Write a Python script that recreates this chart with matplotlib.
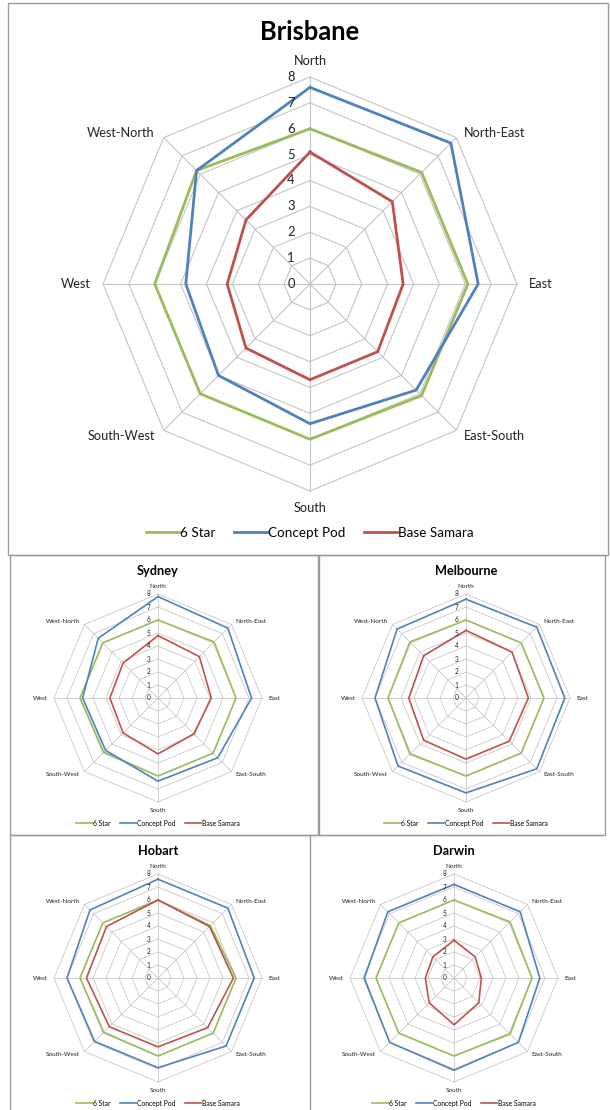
import numpy as np
import matplotlib.pyplot as plt
from matplotlib.lines import Line2D
from matplotlib.patches import Rectangle

plt.rcParams['font.family'] = ['Lato', 'DejaVu Sans']

W, H = 610, 1110

directions = ["North", "North-East", "East", "East-South",
              "South", "South-West", "West", "West-North"]
series_names = ["6 Star", "Concept Pod", "Base Samara"]
series_colors = ["#9BBB59", "#4F81BD", "#C0504D"]
r_ticks = [0, 1, 2, 3, 4, 5, 6, 7, 8]

# star ratings per orientation (N, NE, E, ES, S, SW, W, WN)
brisbane_6star = [6.0, 6.1, 6.1, 6.1, 6.0, 6.0, 6.0, 6.2]
brisbane_pod = [7.6, 7.7, 6.5, 5.8, 5.4, 5.0, 4.8, 6.2]
brisbane_samara = [5.1, 4.5, 3.6, 3.7, 3.7, 3.5, 3.2, 3.5]

sydney_6star = [6.0, 6.1, 6.0, 6.0, 6.0, 5.9, 6.0, 6.0]
sydney_pod = [7.8, 7.6, 7.2, 6.5, 6.4, 5.7, 5.8, 6.5]
sydney_samara = [4.8, 4.5, 4.1, 3.9, 4.3, 3.8, 3.7, 3.8]

melbourne_6star = [6.0, 6.0, 6.0, 6.0, 6.0, 6.1, 6.0, 6.1]
melbourne_pod = [7.6, 7.7, 7.6, 7.7, 7.3, 7.4, 7.0, 7.5]
melbourne_samara = [5.2, 5.0, 4.8, 4.7, 4.7, 4.6, 4.4, 4.6]

hobart_6star = [6.0, 5.7, 6.0, 6.0, 6.0, 5.9, 6.0, 6.0]
hobart_pod = [7.6, 7.6, 7.4, 7.4, 6.9, 6.9, 7.0, 7.4]
hobart_samara = [6.0, 5.6, 5.8, 5.4, 5.3, 5.3, 5.5, 5.6]

darwin_6star = [6.0, 6.1, 6.0, 6.1, 6.0, 6.0, 6.0, 6.0]
darwin_pod = [7.2, 7.2, 6.6, 7.0, 7.1, 7.0, 6.9, 7.2]
darwin_samara = [2.9, 2.3, 2.1, 2.7, 3.6, 2.7, 2.2, 2.3]

fig = plt.figure(figsize=(W / 100, H / 100), dpi=100)
fig.patch.set_facecolor("white")

GRID = "#C4C4C4"
BORDER = "#9A9A9A"


def px(x, y):
    return x / W, 1 - y / H


# label placement around the octagon: (dx, dy in px, ha, va)
label_pos = [
    (0, 10, "center", "bottom"),
    (8, 5, "left", "center"),
    (12, 0, "left", "center"),
    (8, -6, "left", "center"),
    (0, -11, "center", "top"),
    (-9, -6, "right", "center"),
    (-12, 0, "right", "center"),
    (-9, 5, "right", "center"),
]


def radar(cx, cy, rad, title, series):
    k = rad / 207
    left, bottom = px(cx - rad, cy + rad)
    ax = fig.add_axes([left, bottom, 2 * rad / W, 2 * rad / H], projection="polar")
    ax.set_theta_zero_location("N")
    ax.set_theta_direction(-1)
    ax.set_ylim(0, 8)
    ax.set_xticks([])
    ax.set_yticks([])
    ax.grid(False)
    ax.spines["polar"].set_visible(False)
    ax.patch.set_visible(False)

    theta = np.linspace(0, 2 * np.pi, len(directions), endpoint=False)
    closed = np.append(theta, theta[0])

    glw = 0.8 if k > 0.8 else 0.55
    for t in r_ticks[1:]:
        ax.plot(closed, [t] * len(closed), color=GRID, lw=glw, clip_on=False, zorder=1)
    for a in theta:
        ax.plot([a, a], [0, r_ticks[-1]], color=GRID, lw=glw, clip_on=False, zorder=1)

    lw = 2.0 if k > 0.8 else 1.2
    for name, vals, color in zip(series_names, series, series_colors):
        ax.plot(closed, list(vals) + [vals[0]], color=color, lw=lw,
                clip_on=False, zorder=3, label=name)

    fs = 9.2 * k
    for a, lab, (dx, dy, ha, va) in zip(theta, directions, label_pos):
        ax.annotate(lab, xy=(a, r_ticks[-1]), xytext=(dx * k * 0.72, dy * k * 0.72),
                    textcoords="offset points", ha=ha, va=va, fontsize=fs,
                    color="#222222", annotation_clip=False)
    for t in r_ticks:
        ax.annotate(str(t), xy=(0, t), xytext=(-19 * k * 0.72, 0),
                    textcoords="offset points", ha="center", va="center",
                    fontsize=fs * 1.02, color="#222222", annotation_clip=False)

    tx, ty = px(cx, cy - 252 * k)
    fig.text(tx, ty, title, ha="center", va="center", fontsize=17 * k * 1.08,
             fontweight="bold", color="black")

    lx, ly = px(cx, cy + 249 * k)
    handles = [Line2D([], [], color=c, lw=lw) for c in series_colors]
    ax.legend(handles, series_names, loc="center", bbox_to_anchor=(lx, ly),
              bbox_transform=fig.transFigure, ncol=3, frameon=False,
              fontsize=9.7 * k, handlelength=2.4, handletextpad=0.1,
              columnspacing=1.4, borderpad=0)


# panel frames
def frame(x0, y0, x1, y1):
    l, b = px(x0, y1)
    fig.patches.append(Rectangle((l, b), (x1 - x0) / W, (y1 - y0) / H,
                                 transform=fig.transFigure, fill=False,
                                 edgecolor=BORDER, lw=1.0))


frame(8, 3, 608, 555)
frame(10, 555, 318, 835)
frame(319, 555, 605, 835)
frame(10, 835, 310, 1112)
fig.lines.append(Line2D([310 / W, 602 / W], [1 - 835 / H, 1 - 835 / H],
                        transform=fig.transFigure, color=BORDER, lw=1.0))

radar(310, 284, 207, "Brisbane", [brisbane_6star, brisbane_pod, brisbane_samara])
radar(158, 698, 104, "Sydney", [sydney_6star, sydney_pod, sydney_samara])
radar(466, 698, 104, "Melbourne", [melbourne_6star, melbourne_pod, melbourne_samara])
radar(158, 978, 104, "Hobart", [hobart_6star, hobart_pod, hobart_samara])
radar(454, 978, 104, "Darwin", [darwin_6star, darwin_pod, darwin_samara])

fig.savefig("out.png", dpi=100, facecolor="white")
